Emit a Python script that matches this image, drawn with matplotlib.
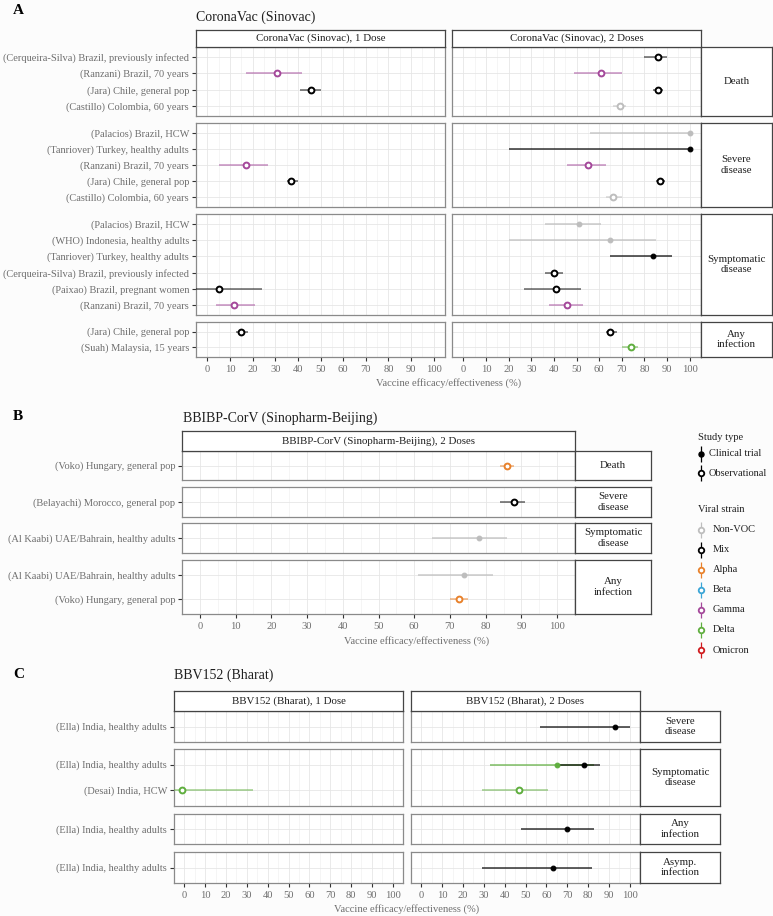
import matplotlib

matplotlib.use("Agg")

import matplotlib.pyplot as plt

W, H = 773, 916
BG = "#FCFCFC"
plt.rcParams["font.family"] = ["Liberation Serif", "DejaVu Serif"]

STRAINS = ["Non-VOC", "Mix", "Alpha", "Beta", "Gamma", "Delta", "Omicron"]
STRAIN_COLORS = ["#BDBDBD", "#000000", "#E8812B", "#3AA5D6", "#A4489A", "#5FAE3E", "#D01C1F"]
DESIGNS = ["Clinical trial", "Observational"]

# ---- Panel A: CoronaVac (Sinovac) ----
A_doses = ["1 Dose", "2 Doses"]
A_outcomes = ["Death", "Severe", "Symptomatic", "Any"]
A_outcome_labels = ["Death", "Severe\ndisease", "Symptomatic\ndisease", "Any\ninfection"]
A_rows = [
    ["(Cerqueira-Silva) Brazil, previously infected", "(Ranzani) Brazil, 70 years",
     "(Jara) Chile, general pop", "(Castillo) Colombia, 60 years"],
    ["(Palacios) Brazil, HCW", "(Tanriover) Turkey, healthy adults", "(Ranzani) Brazil, 70 years",
     "(Jara) Chile, general pop", "(Castillo) Colombia, 60 years"],
    ["(Palacios) Brazil, HCW", "(WHO) Indonesia, healthy adults", "(Tanriover) Turkey, healthy adults",
     "(Cerqueira-Silva) Brazil, previously infected", "(Paixao) Brazil, pregnant women",
     "(Ranzani) Brazil, 70 years"],
    ["(Jara) Chile, general pop", "(Suah) Malaysia, 15 years"],
]
A_outcome = ["Death"] * 6 + ["Severe"] * 7 + ["Symptomatic"] * 8 + ["Any"] * 3
A_study = [
    "(Ranzani) Brazil, 70 years", "(Jara) Chile, general pop",
    "(Cerqueira-Silva) Brazil, previously infected", "(Ranzani) Brazil, 70 years",
    "(Jara) Chile, general pop", "(Castillo) Colombia, 60 years",
    "(Ranzani) Brazil, 70 years", "(Jara) Chile, general pop",
    "(Palacios) Brazil, HCW", "(Tanriover) Turkey, healthy adults", "(Ranzani) Brazil, 70 years",
    "(Jara) Chile, general pop", "(Castillo) Colombia, 60 years",
    "(Paixao) Brazil, pregnant women", "(Ranzani) Brazil, 70 years",
    "(Palacios) Brazil, HCW", "(WHO) Indonesia, healthy adults", "(Tanriover) Turkey, healthy adults",
    "(Cerqueira-Silva) Brazil, previously infected", "(Paixao) Brazil, pregnant women",
    "(Ranzani) Brazil, 70 years",
    "(Jara) Chile, general pop", "(Jara) Chile, general pop", "(Suah) Malaysia, 15 years",
]
A_dose = ["1 Dose", "1 Dose", "2 Doses", "2 Doses", "2 Doses", "2 Doses",
          "1 Dose", "1 Dose", "2 Doses", "2 Doses", "2 Doses", "2 Doses", "2 Doses",
          "1 Dose", "1 Dose", "2 Doses", "2 Doses", "2 Doses", "2 Doses", "2 Doses", "2 Doses",
          "1 Dose", "2 Doses", "2 Doses"]
A_est = [31, 46, 86, 61, 86, 69, 17, 37, 100, 100, 55, 87, 66, 5, 12, 51, 65, 84, 40, 41, 46, 15, 65, 74]
A_lo = [17, 41, 80, 49, 84, 66, 5, 35, 56, 20, 46, 85, 63, -15, 4, 36, 20, 65, 36, 27, 38, 12.5, 63, 70]
A_hi = [42, 50, 90, 70, 88, 72, 27, 40, 100, 100, 63, 89, 70, 24, 21, 61, 85, 92, 44, 52, 53, 18, 68, 77]
A_design = ["Observational"] * 8 + ["Clinical trial"] * 2 + ["Observational"] * 5 + \
    ["Clinical trial"] * 3 + ["Observational"] * 6
A_strain = ["Gamma", "Mix", "Mix", "Gamma", "Mix", "Non-VOC",
            "Gamma", "Mix", "Non-VOC", "Mix", "Gamma", "Mix", "Non-VOC",
            "Mix", "Gamma", "Non-VOC", "Non-VOC", "Mix", "Mix", "Mix", "Gamma",
            "Mix", "Mix", "Delta"]

# ---- Panel B: BBIBP-CorV (Sinopharm-Beijing) ----
B_doses = ["2 Doses"]
B_outcomes = ["Death", "Severe", "Symptomatic", "Any"]
B_outcome_labels = ["Death", "Severe\ndisease", "Symptomatic\ndisease", "Any\ninfection"]
B_rows = [
    ["(Voko) Hungary, general pop"],
    ["(Belayachi) Morocco, general pop"],
    ["(Al Kaabi) UAE/Bahrain, healthy adults"],
    ["(Al Kaabi) UAE/Bahrain, healthy adults", "(Voko) Hungary, general pop"],
]
B_outcome = ["Death", "Severe", "Symptomatic", "Any", "Any"]
B_study = ["(Voko) Hungary, general pop", "(Belayachi) Morocco, general pop",
           "(Al Kaabi) UAE/Bahrain, healthy adults", "(Al Kaabi) UAE/Bahrain, healthy adults",
           "(Voko) Hungary, general pop"]
B_dose = ["2 Doses"] * 5
B_est = [86, 88, 78, 74, 72.5]
B_lo = [84, 84, 65, 61, 70]
B_hi = [88, 91, 86, 82, 75]
B_design = ["Observational", "Observational", "Clinical trial", "Clinical trial", "Observational"]
B_strain = ["Alpha", "Mix", "Non-VOC", "Non-VOC", "Alpha"]

# ---- Panel C: BBV152 (Bharat) ----
C_doses = ["1 Dose", "2 Doses"]
C_outcomes = ["Severe", "Symptomatic", "Any", "Asymp"]
C_outcome_labels = ["Severe\ndisease", "Symptomatic\ndisease", "Any\ninfection", "Asymp.\ninfection"]
C_rows = [
    ["(Ella) India, healthy adults"],
    ["(Ella) India, healthy adults", "(Desai) India, HCW"],
    ["(Ella) India, healthy adults"],
    ["(Ella) India, healthy adults"],
]
C_outcome = ["Severe", "Symptomatic", "Symptomatic", "Symptomatic", "Symptomatic", "Any", "Asymp"]
C_study = ["(Ella) India, healthy adults", "(Desai) India, HCW", "(Ella) India, healthy adults",
           "(Ella) India, healthy adults", "(Desai) India, HCW", "(Ella) India, healthy adults",
           "(Ella) India, healthy adults"]
C_dose = ["2 Doses", "1 Dose", "2 Doses", "2 Doses", "2 Doses", "2 Doses", "2 Doses"]
C_est = [93, -1, 65, 78, 47, 70, 63]
C_lo = [57, -50, 33, 65, 29, 48, 29]
C_hi = [100, 33, 83, 86, 61, 83, 82]
C_design = ["Clinical trial", "Observational", "Clinical trial", "Clinical trial", "Observational",
            "Clinical trial", "Clinical trial"]
C_strain = ["Mix", "Delta", "Delta", "Mix", "Delta", "Mix", "Mix"]

TICK_GREY = "#6E6E6E"
DARK = "#1F1F1F"


def px_box(x0, y0, x1, y1):
    return [x0 / W, 1 - y1 / H, (x1 - x0) / W, (y1 - y0) / H]


def strip(fig, x0, y0, x1, y1, text):
    ax = fig.add_axes(px_box(x0, y0, x1, y1))
    ax.set_facecolor("white")
    ax.set_xticks([])
    ax.set_yticks([])
    for s in ax.spines.values():
        s.set_color("#444444")
        s.set_linewidth(0.9)
    ax.text(0.5, 0.5, text, ha="center", va="center", fontsize=7.8, color=DARK,
            transform=ax.transAxes, linespacing=1.2)


def draw_facets(fig, layout, doses, outcomes, outcome_labels, rows, data, title):
    outcome, study, dose, est, lo, hi, design, strain = data
    col_x, strip_y, row_y, rstrip_x = layout["cols"], layout["strip"], layout["rows"], layout["rstrip"]
    last = len(row_y) - 1
    for r, (y0, y1) in enumerate(row_y):
        labels = rows[r]
        n = len(labels)
        for c, (x0, x1) in enumerate(col_x):
            ax = fig.add_axes(px_box(x0, y0, x1, y1))
            ax.set_facecolor("white")
            ax.set_xlim(-5, 105)
            ax.set_ylim(n - 1 + 0.6, -0.6)
            ax.set_xticks(range(0, 101, 10))
            ax.set_xticks(range(5, 100, 10), minor=True)
            ax.set_yticks(range(n))
            ax.grid(True, which="major", color="#E6E6E6", lw=0.6)
            ax.grid(True, which="minor", axis="x", color="#F1F1F1", lw=0.5)
            ax.set_axisbelow(True)
            for s in ax.spines.values():
                s.set_color("#8A8A8A")
                s.set_linewidth(0.9)
            if c == len(col_x) - 1:
                ax.spines["right"].set_color("#333333")
            ax.tick_params(axis="both", which="minor", length=0)
            if c == 0:
                ax.set_yticklabels(labels)
                ax.tick_params(axis="y", length=3, width=0.8, color="#333333",
                               labelsize=7.5, labelcolor=TICK_GREY, pad=2)
            else:
                ax.tick_params(axis="y", length=0, labelleft=False)
            if r == last:
                ax.tick_params(axis="x", length=3, width=0.8, color="#333333",
                               labelsize=7.6, labelcolor=TICK_GREY, pad=3)
            else:
                ax.tick_params(axis="x", length=0, labelbottom=False)

            for i in range(len(est)):
                if outcome[i] != outcomes[r] or dose[i] != doses[c]:
                    continue
                y = labels.index(study[i])
                col = STRAIN_COLORS[STRAINS.index(strain[i])]
                clinical = design[i] == DESIGNS[0]
                line_alpha = 0.8 if clinical else 0.6
                ax.hlines(y, lo[i], hi[i], color=col, lw=1.1, alpha=line_alpha, zorder=3)
                if clinical:
                    ax.plot(est[i], y, marker="o", ms=3.4, mfc=col, mec=col, mew=0.8, zorder=4)
                else:
                    ax.plot(est[i], y, marker="o", ms=4.2, mfc="white", mec=col, mew=1.4, zorder=4)
        strip(fig, rstrip_x[0], y0, rstrip_x[1], y1, outcome_labels[r])

    for c, (x0, x1) in enumerate(col_x):
        strip(fig, x0, strip_y[0], x1, strip_y[1], f"{title}, {doses[c]}")


def legend(ov):
    ov.text(698, 437, "Study type", fontsize=7.5, color=DARK, va="center")
    for k, (label, y) in enumerate(zip(DESIGNS, [454, 473])):
        ov.vlines(701, y - 8, y + 8, color="black", lw=0.9)
        if k == 0:
            ov.plot(701, y, marker="o", ms=3.6, mfc="black", mec="black")
        else:
            ov.plot(701, y, marker="o", ms=4.0, mfc="white", mec="black", mew=1.3)
        ov.text(709, y, label, fontsize=7.5, color=DARK, va="center")
    ov.text(698, 510, "Viral strain", fontsize=7.5, color=DARK, va="center")
    for k, (label, col) in enumerate(zip(STRAINS, STRAIN_COLORS)):
        y = 529.5 + k * 20.1
        ov.vlines(701, y - 8, y + 8, color=col, lw=0.9)
        ov.plot(701, y, marker="o", ms=4.0, mfc="white", mec=col, mew=1.3)
        ov.text(713, y, label, fontsize=7.5, color=DARK, va="center")


def main() -> None:
    fig = plt.figure(figsize=(W / 100, H / 100), dpi=100, facecolor=BG)
    ov = fig.add_axes([0, 0, 1, 1], zorder=10)
    ov.set_xlim(0, W)
    ov.set_ylim(H, 0)
    ov.axis("off")

    layout_a = {"cols": [(196, 445), (452, 701)], "strip": (30, 47),
                "rows": [(47, 116), (123, 207), (214, 315), (322, 357)], "rstrip": (701, 772)}
    draw_facets(fig, layout_a, A_doses, A_outcomes, A_outcome_labels, A_rows,
                (A_outcome, A_study, A_dose, A_est, A_lo, A_hi, A_design, A_strain),
                "CoronaVac (Sinovac)")
    layout_b = {"cols": [(182, 575)], "strip": (431, 451),
                "rows": [(451, 480), (487, 517), (523, 553), (560, 614)], "rstrip": (575, 651)}
    draw_facets(fig, layout_b, B_doses, B_outcomes, B_outcome_labels, B_rows,
                (B_outcome, B_study, B_dose, B_est, B_lo, B_hi, B_design, B_strain),
                "BBIBP-CorV (Sinopharm-Beijing)")
    layout_c = {"cols": [(174, 403), (411, 640)], "strip": (691, 711),
                "rows": [(711, 742), (749, 806), (814, 844), (852, 883)], "rstrip": (640, 720)}
    draw_facets(fig, layout_c, C_doses, C_outcomes, C_outcome_labels, C_rows,
                (C_outcome, C_study, C_dose, C_est, C_lo, C_hi, C_design, C_strain),
                "BBV152 (Bharat)")

    for letter, y in [("A", 10), ("B", 417), ("C", 674)]:
        ov.text(13, y, letter, fontsize=11, fontweight="bold", color="black", va="center")
    for title, x, y in [("CoronaVac (Sinovac)", 196, 17), ("BBIBP-CorV (Sinopharm-Beijing)", 183, 418),
                        ("BBV152 (Bharat)", 174, 675)]:
        ov.text(x, y, title, fontsize=10, color=DARK, va="center")
    for x, y in [(449, 383), (417, 641), (407, 909)]:
        ov.text(x, y, "Vaccine efficacy/effectiveness (%)", fontsize=7.6, color=TICK_GREY,
                ha="center", va="center")
    legend(ov)

    fig.savefig("out.png", dpi=100, facecolor=BG)
    plt.close(fig)


if __name__ == "__main__":
    main()
